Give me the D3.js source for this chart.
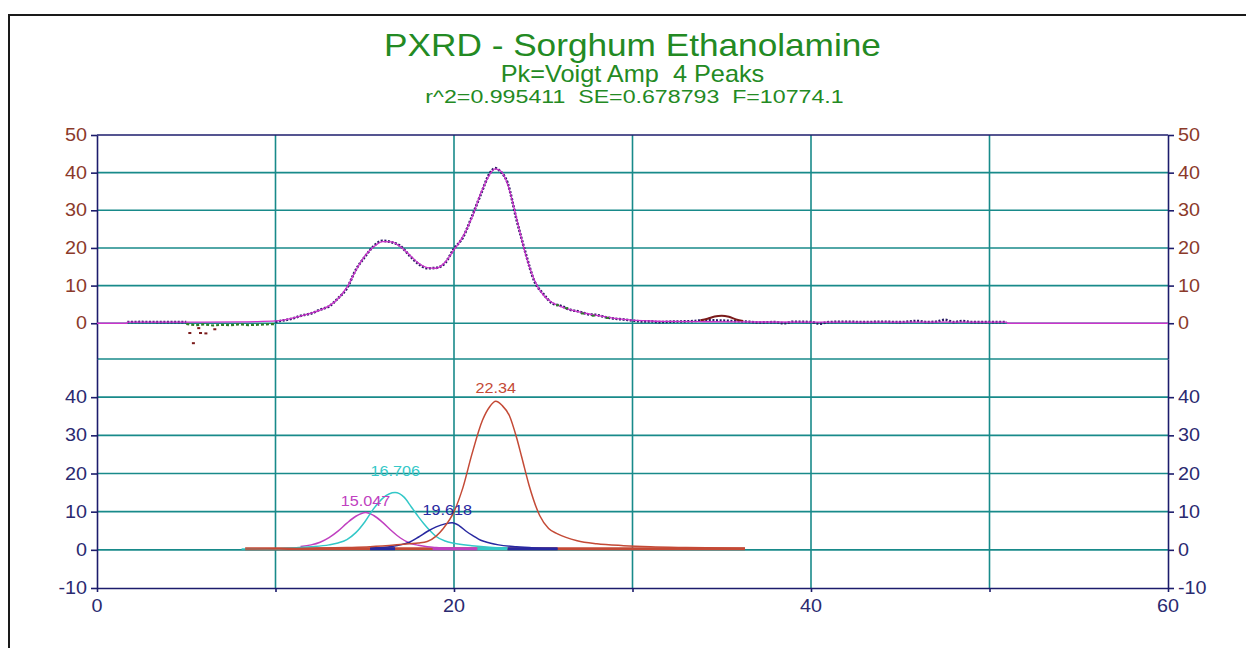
<!DOCTYPE html>
<html><head><meta charset="utf-8">
<script src="https://cdn.jsdelivr.net/npm/d3@7"></script>
<style>
body{margin:0;background:#fff}
svg{display:block}
text{font-family:"Liberation Sans",Arial,sans-serif;white-space:pre}
</style>
</head><body>
<svg id="c" width="1246" height="648"></svg>
<script>
// ---------------- DATA ----------------
const titleLines = ["PXRD - Sorghum Ethanolamine", "Pk=Voigt Amp  4 Peaks", "r^2=0.995411  SE=0.678793  F=10774.1"];
const xTicks = [0, 10, 20, 30, 40, 50, 60];
const xTickLabels = [0, 20, 40, 60];
const upperTicks = [0, 10, 20, 30, 40, 50];
const lowerTicks = [-10, 0, 10, 20, 30, 40];

// fitted curve (upper panel)
const fitCurve = [[0,0],[1.69,0],[1.7,0.3],[4,0.3],[6,0.3],[8,0.35],[9,0.45],[10,0.6],[10.5,0.9],[11,1.4],[11.5,2.0],[12,2.7],[12.5,3.5],[13,4.6],[13.5,6.5],[14,9.5],[14.5,14.0],[15,17.8],[15.5,20.3],[16,21.7],[16.5,21.6],[17,20.3],[17.5,18.2],[18,16.0],[18.5,14.8],[19,14.6],[19.5,16.2],[20,19.5],[20.5,23.0],[21,28.0],[21.5,34.5],[22,39.5],[22.3,41.0],[22.6,40.5],[23,37.0],[23.5,28.0],[24,18.5],[24.5,11.5],[25,7.5],[25.5,5.5],[26,4.4],[27,3.0],[28,2.1],[29,1.3],[30,0.8],[31,0.6],[32,0.5],[34,0.4],[36,0.35],[40,0.3],[45,0.3],[50.95,0.3],[51,0],[60,0]];

// observed data (upper panel)
const obsMain = [[1.7,0.3],[2.5,0.35],[3.5,0.3],[4.5,0.3],[5,0.3]];
const obsMain2 = [[10,0.4],[10.5,0.8],[11,1.3],[11.5,2.1],[12,2.6],[12.5,3.6],[13,4.5],[13.5,6.6],[14,9.3],[14.5,14.2],[15,17.6],[15.5,20.5],[16,21.9],[16.5,21.5],[17,20.5],[17.5,18.0],[18,15.8],[18.5,14.6],[19,14.7],[19.5,16.0],[20,19.8],[20.5,22.8],[21,28.3],[21.5,34.2],[22,39.8],[22.3,41.2],[22.6,40.3],[23,37.3],[23.5,27.6],[24,18.8],[24.5,11.2],[25,7.8],[25.5,5.3],[26,4.6],[26.5,3.6],[27,3.1],[27.5,2.4],[28,2.2],[28.5,1.6],[29,1.2],[29.5,1.0],[30,0.7],[30.5,0.5],[31,0.5],[31.5,0.3],[32,0.4],[33,0.5],[33.5,0.6],[34,0.8],[36,0.5],[36.5,0.4],[37,0.2],[38,0.3],[38.5,0.0],[39,0.4],[40,0.3],[40.5,-0.1],[41,0.3],[42,0.4],[43,0.3],[44,0.4],[45,0.3],[46,0.6],[46.5,0.3],[47,0.4],[47.5,0.9],[48,0.3],[48.5,0.6],[49,0.3],[50,0.3],[50.95,0.3]];
const obsLow = [[5,-0.2],[5.5,-0.5],[6,-0.3],[6.5,-0.6],[7,-0.4],[7.5,-0.5],[8,-0.3],[8.5,-0.5],[9,-0.4],[9.5,-0.3],[10,-0.2]];
const obsLowDots = [[25.8,4.8],[26.3,4.0],[27.2,2.6],[27.8,2.0],[28.6,1.4]];
const obsOutliers = [[5.2,-2.6],[5.4,-5.3],[5.7,-1.3],[5.8,-2.6],[6.1,-2.7],[6.6,-1.6]];
const obsBump = [[33.8,0.8],[34.2,1.2],[34.6,1.8],[35.0,2.0],[35.4,1.7],[35.8,1.0],[36.2,0.6]];

// individual peaks (lower panel)
const peakLabels = ["15.047", "16.706", "19.618", "22.34"];
const peakCenters = [15.047, 16.706, 19.618, 22.34];
const peakAmps = [9.8, 15.0, 7.1, 38.9];
const peakMagenta = [[11.4,0.9],[12,1.3],[12.5,2.0],[13,3.2],[13.5,4.9],[14,7.0],[14.5,8.8],[15.05,9.8],[15.5,9.0],[16,7.2],[16.5,5.0],[17,3.1],[17.5,1.8],[18,1.2],[18.5,0.8],[19,0.6],[20,0.4],[21.3,0.3]];
const peakCyan = [[8.1,0.2],[10,0.3],[11,0.5],[12,0.8],[13,1.3],[13.5,1.8],[14,2.7],[14.5,4.5],[15,7.3],[15.5,10.8],[16,13.5],[16.7,15.0],[17.2,13.8],[17.6,11.3],[18,8.7],[18.3,6.9],[18.7,4.8],[19,3.5],[19.5,2.3],[20,1.7],[21,1.1],[22,0.7],[23,0.5]];
const peakNavy = [[15.3,0.3],[16,0.6],[16.5,0.9],[17,1.3],[17.5,2.0],[18,3.3],[18.5,4.8],[19,6.0],[19.5,6.8],[19.9,7.1],[20.3,6.3],[20.7,4.8],[21.1,3.6],[21.5,2.5],[22,1.8],[22.5,1.3],[23.5,0.8],[24.5,0.5],[25.8,0.3]];
const peakRed = [[8.3,0.2],[10,0.3],[12,0.4],[14,0.6],[15.3,0.8],[16.8,1.3],[17.5,1.6],[18,1.8],[18.5,2.2],[19,3.6],[19.4,5.6],[20,10.0],[20.5,16.3],[21,25.0],[21.6,34.0],[22,37.5],[22.34,38.9],[22.7,37.8],[23.1,35.2],[23.5,29.5],[23.8,24.2],[24.2,17.0],[24.8,9.0],[25.3,5.6],[25.8,4.2],[26.9,2.4],[28,1.6],[29.5,1.1],[31,0.8],[33,0.6],[36.3,0.4]];
// thick near-zero tail segments: [from, to, peak index]
const tailSegs = [[8.3,36.3,3],[15.3,16.7,2],[18.8,21.3,0],[21.3,23.0,1],[23.0,25.8,2]];

// ---------------- STYLE ----------------
const C = {
  grid: "#188a8a", axis: "#1c1c6c", title: "#238a23",
  upLab: "#8b3a2a", lowLab: "#2a2a70",
  fit: "#cc33cc", obs: "#2a1c66", low: "#2f7f2a", out: "#7a1a1a",
  peaks: ["#c040c0", "#33c8c8", "#2828a0", "#c44a36"]
};
const labDy = [-6, -17, -8, -8];

const svg = d3.select("#c");
const x = d3.scaleLinear().domain([0, 60]).range([97, 1168]);
const yU = d3.scaleLinear().domain([-9.5, 50]).range([359, 135]);
const yL = d3.scaleLinear().domain([-10, 50]).range([588, 359]);

// outer frame
svg.append("rect").attr("x", 9).attr("y", 15).attr("width", 1300).attr("height", 700)
  .attr("fill", "none").attr("stroke", "#1a1a1a").attr("stroke-width", 2);

function stext(g, px, py, str, size, sx, anchor, fill, dy) {
  return g.append("text")
    .attr("transform", `translate(${px},${py}) scale(${sx},1)`)
    .attr("text-anchor", anchor).attr("font-size", size).attr("fill", fill)
    .attr("dy", dy || 0).text(str);
}

// titles
const tg = svg.append("g");
const cx = (x.range()[0] + x.range()[1]) / 2;
stext(tg, cx, 56, titleLines[0], 32, 1.1, "middle", C.title);
stext(tg, cx, 82, titleLines[1], 23, 1.1, "middle", C.title);
stext(tg, cx + 2, 103, titleLines[2], 19, 1.22, "middle", C.title);

// grid
const grid = svg.append("g").attr("stroke", C.grid).attr("stroke-width", 1.6);
xTicks.filter(d => d > 0 && d < 60).forEach(d => {
  grid.append("line").attr("x1", x(d)).attr("x2", x(d)).attr("y1", yU(50)).attr("y2", yL(-10));
});
upperTicks.filter(d => d < 50).forEach(d => {
  grid.append("line").attr("x1", x(0)).attr("x2", x(60)).attr("y1", yU(d)).attr("y2", yU(d));
});
lowerTicks.concat([50]).filter(d => d > -10).forEach(d => {
  grid.append("line").attr("x1", x(0)).attr("x2", x(60)).attr("y1", yL(d)).attr("y2", yL(d));
});

// axes
function styleAxis(g) {
  g.selectAll("path,line").attr("stroke", C.axis).attr("stroke-width", 1.6);
  g.selectAll("text").remove();
}
svg.append("g").attr("transform", `translate(${x(0)},0)`)
  .call(d3.axisLeft(yU).tickValues(upperTicks).tickSize(6).tickSizeOuter(0)).call(styleAxis);
svg.append("g").attr("transform", `translate(${x(0)},0)`)
  .call(d3.axisLeft(yL).tickValues(lowerTicks).tickSize(6).tickSizeOuter(0)).call(styleAxis);
svg.append("g").attr("transform", `translate(${x(60)},0)`)
  .call(d3.axisRight(yU).tickValues(upperTicks).tickSize(6).tickSizeOuter(0)).call(styleAxis);
svg.append("g").attr("transform", `translate(${x(60)},0)`)
  .call(d3.axisRight(yL).tickValues(lowerTicks).tickSize(6).tickSizeOuter(0)).call(styleAxis);
svg.append("g").attr("transform", `translate(0,${yL(-10)})`)
  .call(d3.axisBottom(x).tickValues(xTicks).tickSize(4).tickSizeOuter(0)).call(styleAxis);
svg.append("line").attr("x1", x(0)).attr("x2", x(60)).attr("y1", yU(50)).attr("y2", yU(50))
  .attr("stroke", C.axis).attr("stroke-width", 1.6);

// tick labels
const lab = svg.append("g");
upperTicks.forEach(d => {
  stext(lab, x(0) - 10, yU(d), String(d), 17.5, 1.13, "end", C.upLab, "0.35em");
  stext(lab, x(60) + 10, yU(d), String(d), 17.5, 1.13, "start", C.upLab, "0.35em");
});
lowerTicks.forEach(d => {
  stext(lab, x(0) - 10, yL(d), String(d), 17.5, 1.13, "end", C.lowLab, "0.35em");
  stext(lab, x(60) + 10, yL(d), String(d), 17.5, 1.13, "start", C.lowLab, "0.35em");
});
xTickLabels.forEach(d => {
  stext(lab, x(d), yL(-10) + 24, String(d), 17.5, 1.13, "middle", C.lowLab);
});

// upper panel series
const lineU = d3.line().x(d => x(d[0])).y(d => yU(d[1]));
const lineUc = d3.line().x(d => x(d[0])).y(d => yU(d[1])).curve(d3.curveMonotoneX);
const up = svg.append("g").attr("fill", "none");
[obsMain, obsMain2].forEach(s => up.append("path").attr("d", lineUc(s))
  .attr("stroke", C.obs).attr("stroke-width", 2.6).attr("stroke-dasharray", "2,1.6"));
up.append("path").attr("d", lineU(obsLow)).attr("stroke", C.low).attr("stroke-width", 2.2).attr("stroke-dasharray", "3,2");
up.append("path").attr("d", lineUc(obsBump)).attr("stroke", C.out).attr("stroke-width", 2);
up.append("path").attr("d", lineUc(fitCurve)).attr("stroke", C.fit).attr("stroke-width", 1.3);
svg.append("g").selectAll("rect").data(obsLowDots).join("rect")
  .attr("x", d => x(d[0]) - 1.5).attr("y", d => yU(d[1]) - 1).attr("width", 3).attr("height", 2).attr("fill", C.low);
svg.append("g").selectAll("rect").data(obsOutliers).join("rect")
  .attr("x", d => x(d[0]) - 1.5).attr("y", d => yU(d[1]) - 1).attr("width", 3).attr("height", 2).attr("fill", C.out);

// lower panel peaks
const lineL = d3.line().x(d => x(d[0])).y(d => yL(d[1])).curve(d3.curveMonotoneX);
const peaks = [peakMagenta, peakCyan, peakNavy, peakRed];
const lo = svg.append("g").attr("fill", "none");
tailSegs.forEach(s => {
  lo.append("line").attr("x1", x(s[0])).attr("x2", x(s[1])).attr("y1", yL(0.3)).attr("y2", yL(0.3))
    .attr("stroke", C.peaks[s[2]]).attr("stroke-width", 3);
});
peaks.forEach((p, i) => {
  lo.append("path").attr("d", lineL(p)).attr("stroke", C.peaks[i]).attr("stroke-width", 1.5);
});
peakLabels.forEach((t, i) => {
  stext(svg, x(peakCenters[i]), yL(peakAmps[i]) + labDy[i], t, 15, 1.08, "middle", C.peaks[i]);
});
</script>
</body></html>
